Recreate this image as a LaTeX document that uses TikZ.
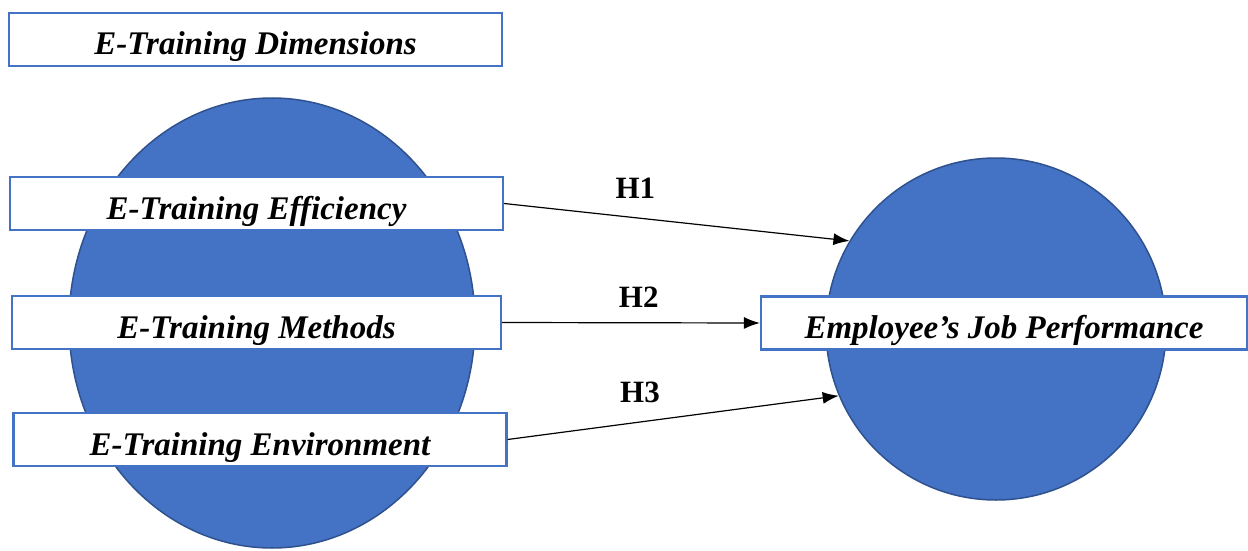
\documentclass[tikz,border=0pt]{standalone}
\usepackage{fontspec}
\setmainfont{Liberation Serif}
\usetikzlibrary{shapes.geometric,arrows.meta}
\definecolor{fillblue}{HTML}{4472C4}
\definecolor{edgeblue}{HTML}{2F528F}

\begin{document}
\begin{tikzpicture}[x=1pt,y=-1pt,
  blob/.style={ellipse, fill=fillblue, draw=edgeblue, line width=1.5pt},
  dimbox/.style={rectangle, draw=fillblue, fill=white, line width=2.2pt, minimum height=53pt, text height=31pt, text depth=0pt, inner sep=0pt, font=\fontsize{33}{40}\selectfont\bfseries\itshape},
  link/.style={-{Latex[length=16pt,width=12pt]}, line width=1.2pt},
  hyp/.style={font=\fontsize{31}{37}\selectfont\bfseries}]
            \useasboundingbox (0,0) rectangle (1248,551);
            % the two constructs
            \node[blob, minimum width=406pt, minimum height=450pt] (train) at (272,323) {};
            \node[blob, minimum width=340pt, minimum height=342pt] (jp) at (996,329) {};
            % labels
            \node[dimbox, minimum width=493pt] (dims) at (255.5,39.5) {E-Training Dimensions};
            \node[dimbox, minimum width=493pt] (eff) at (256.5,203.5) {E-Training Efficiency};
            \node[dimbox, minimum width=489pt] (meth) at (256.5,322.5) {E-Training Methods};
            \node[dimbox, minimum width=493pt] (env) at (260,439.5) {E-Training Environment};
            \node[dimbox, minimum width=486pt] (perf) at (1004,323) {Employee’s Job Performance};
            % hypotheses
            \draw[link] (eff.east) -- (jp.149) node[hyp, pos=0.38, above=15pt] (h1) {H1};
            \draw[link] (meth.east) -- (perf.west) node[hyp, pos=0.53, above=11pt] (h2) {H2};
            \draw[link] (env.east) -- (jp.203) node[hyp, pos=0.40, above=15pt] (h3) {H3};
        \end{tikzpicture}
\end{document}
